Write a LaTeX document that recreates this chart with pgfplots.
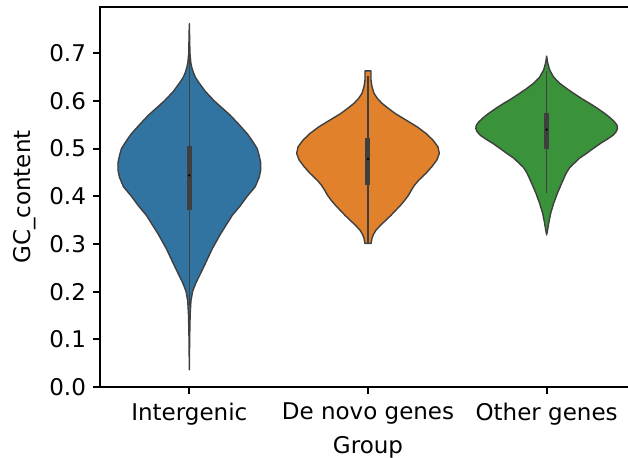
\documentclass[border=0pt]{standalone}
\usepackage{fontspec}
\setmainfont{DejaVu Sans}
\usepackage{pgfplots}
\pgfplotsset{compat=1.18}
\definecolor{vblue}{HTML}{3274A1}
\definecolor{vorange}{HTML}{E1812C}
\definecolor{vgreen}{HTML}{3A923A}
\definecolor{vgray}{HTML}{3F3F3F}
\begin{document}
\begin{tikzpicture}
\useasboundingbox (-50pt,-35.5pt) rectangle (264pt,193.5pt);
\begin{axis}[
  at={(0,0)}, anchor=south west,
  scale only axis, width=268pt, height=190pt,
  xmin=-0.5, xmax=2.5, ymin=0, ymax=0.797,
  xtick={0,1,2}, xticklabels={Intergenic, De novo genes, Other genes},
  ytick={0,0.1,0.2,0.3,0.4,0.5,0.6,0.7},
  yticklabel style={/pgf/number format/.cd, fixed, fixed zerofill, precision=1, assume math mode=true},
  tick align=outside, major tick length=3.5pt,
  xtick pos=bottom, ytick pos=left,
  axis line style={line width=0.9pt, black},
  every tick/.style={line width=0.9pt, black},
  font=\fontsize{11.5}{13.8}\selectfont,
  xlabel={Group}, ylabel={GC\_content},
  every axis y label/.style={at={(axis description cs:-0.140,0.5)}, rotate=90, anchor=center},
  every axis x label/.style={at={(axis description cs:0.5,-0.1526)}, anchor=center, yshift=-1pt},
  xticklabel style={yshift=-1pt},
  clip=false,
]
% Intergenic
\addplot[fill=vblue, draw=vgray, line width=0.7pt, line join=round] coordinates {
(0,0.036) (0.0017,0.10) (0.0045,0.15) (0.0089,0.18) (0.0179,0.20) (0.0279,0.21) (0.0391,0.22) (0.0587,0.235) (0.0782,0.25) (0.1034,0.27) (0.1285,0.29) (0.1732,0.32) (0.2067,0.34) (0.2402,0.36) (0.2849,0.38) (0.3240,0.40) (0.3687,0.42) (0.3911,0.44) (0.3994,0.455) (0.3994,0.47) (0.3911,0.485) (0.3799,0.50) (0.3547,0.515) (0.3268,0.53) (0.2793,0.55) (0.2291,0.57) (0.1844,0.585) (0.1397,0.60) (0.0894,0.62) (0.0503,0.64) (0.0335,0.65) (0.0223,0.66) (0.0140,0.67) (0.0084,0.68) (0.0034,0.70) (0,0.762)
(-0.0034,0.70) (-0.0084,0.68) (-0.0140,0.67) (-0.0223,0.66) (-0.0335,0.65) (-0.0503,0.64) (-0.0894,0.62) (-0.1397,0.60) (-0.1844,0.585) (-0.2291,0.57) (-0.2793,0.55) (-0.3268,0.53) (-0.3547,0.515) (-0.3799,0.50) (-0.3911,0.485) (-0.3994,0.47) (-0.3994,0.455) (-0.3911,0.44) (-0.3687,0.42) (-0.3240,0.40) (-0.2849,0.38) (-0.2402,0.36) (-0.2067,0.34) (-0.1732,0.32) (-0.1285,0.29) (-0.1034,0.27) (-0.0782,0.25) (-0.0587,0.235) (-0.0391,0.22) (-0.0279,0.21) (-0.0179,0.20) (-0.0089,0.18) (-0.0045,0.15) (-0.0017,0.10)
} -- cycle;
% De novo genes
\addplot[fill=vorange, draw=vgray, line width=0.7pt, line join=round] coordinates {
(1.0168,0.301) (1.0223,0.312) (1.0307,0.320) (1.0447,0.329) (1.0726,0.340) (1.1006,0.350) (1.1285,0.360) (1.1564,0.371) (1.1844,0.382) (1.2067,0.392) (1.2263,0.402) (1.2430,0.413) (1.2598,0.423) (1.2849,0.434) (1.3240,0.448) (1.3575,0.462) (1.3855,0.476) (1.3994,0.490) (1.3911,0.504) (1.3631,0.518) (1.3240,0.532) (1.2737,0.546) (1.2123,0.560) (1.1508,0.574) (1.1117,0.585) (1.0782,0.595) (1.0531,0.605) (1.0335,0.616) (1.0223,0.630) (1.0168,0.644) (1.0168,0.663)
(0.9832,0.663) (0.9832,0.644) (0.9777,0.630) (0.9665,0.616) (0.9469,0.605) (0.9218,0.595) (0.8883,0.585) (0.8492,0.574) (0.7877,0.560) (0.7263,0.546) (0.6760,0.532) (0.6369,0.518) (0.6089,0.504) (0.6006,0.490) (0.6145,0.476) (0.6425,0.462) (0.6760,0.448) (0.7151,0.434) (0.7402,0.423) (0.7570,0.413) (0.7737,0.402) (0.7933,0.392) (0.8156,0.382) (0.8436,0.371) (0.8715,0.360) (0.8994,0.350) (0.9274,0.340) (0.9553,0.329) (0.9693,0.320) (0.9777,0.312) (0.9832,0.301)
} -- cycle;
% Other genes
\addplot[fill=vgreen, draw=vgray, line width=0.7pt, line join=round] coordinates {
(2,0.319) (2.0056,0.330) (2.0112,0.343) (2.0223,0.364) (2.0391,0.385) (2.0598,0.406) (2.0838,0.427) (2.1089,0.448) (2.1285,0.460) (2.1536,0.469) (2.1844,0.480) (2.2235,0.490) (2.2598,0.500) (2.3017,0.511) (2.3408,0.520) (2.3715,0.528) (2.3883,0.535) (2.3966,0.542) (2.3939,0.549) (2.3799,0.556) (2.3547,0.565) (2.3240,0.574) (2.2821,0.585) (2.2402,0.595) (2.1955,0.605) (2.1508,0.616) (2.1117,0.626) (2.0726,0.637) (2.0391,0.650) (2.0168,0.665) (2.0056,0.680) (2,0.694)
(1.9944,0.680) (1.9832,0.665) (1.9609,0.650) (1.9274,0.637) (1.8883,0.626) (1.8492,0.616) (1.8045,0.605) (1.7598,0.595) (1.7179,0.585) (1.6760,0.574) (1.6453,0.565) (1.6201,0.556) (1.6061,0.549) (1.6034,0.542) (1.6117,0.535) (1.6285,0.528) (1.6592,0.520) (1.6983,0.511) (1.7402,0.500) (1.7765,0.490) (1.8156,0.480) (1.8464,0.469) (1.8715,0.460) (1.8911,0.448) (1.9162,0.427) (1.9402,0.406) (1.9609,0.385) (1.9777,0.364) (1.9888,0.343) (1.9944,0.330)
} -- cycle;
% whiskers
\addplot[vgray, line width=0.75pt] coordinates {(0,0.17) (0,0.706)};
\addplot[vgray, line width=0.75pt] coordinates {(1,0.301) (1,0.652)};
\addplot[vgray, line width=0.75pt] coordinates {(2,0.406) (2,0.662)};
% boxes
\addplot[vgray, line width=2.5pt] coordinates {(0,0.372) (0,0.506)};
\addplot[vgray, line width=2.5pt] coordinates {(1,0.423) (1,0.523)};
\addplot[vgray, line width=2.5pt] coordinates {(2,0.500) (2,0.574)};
% medians
\addplot[only marks, mark=*, mark size=0.4pt, mark options={draw=none, fill=gray!60}] coordinates {(0,0.444) (1,0.478) (2,0.540)};
\end{axis}
\end{tikzpicture}
\end{document}
